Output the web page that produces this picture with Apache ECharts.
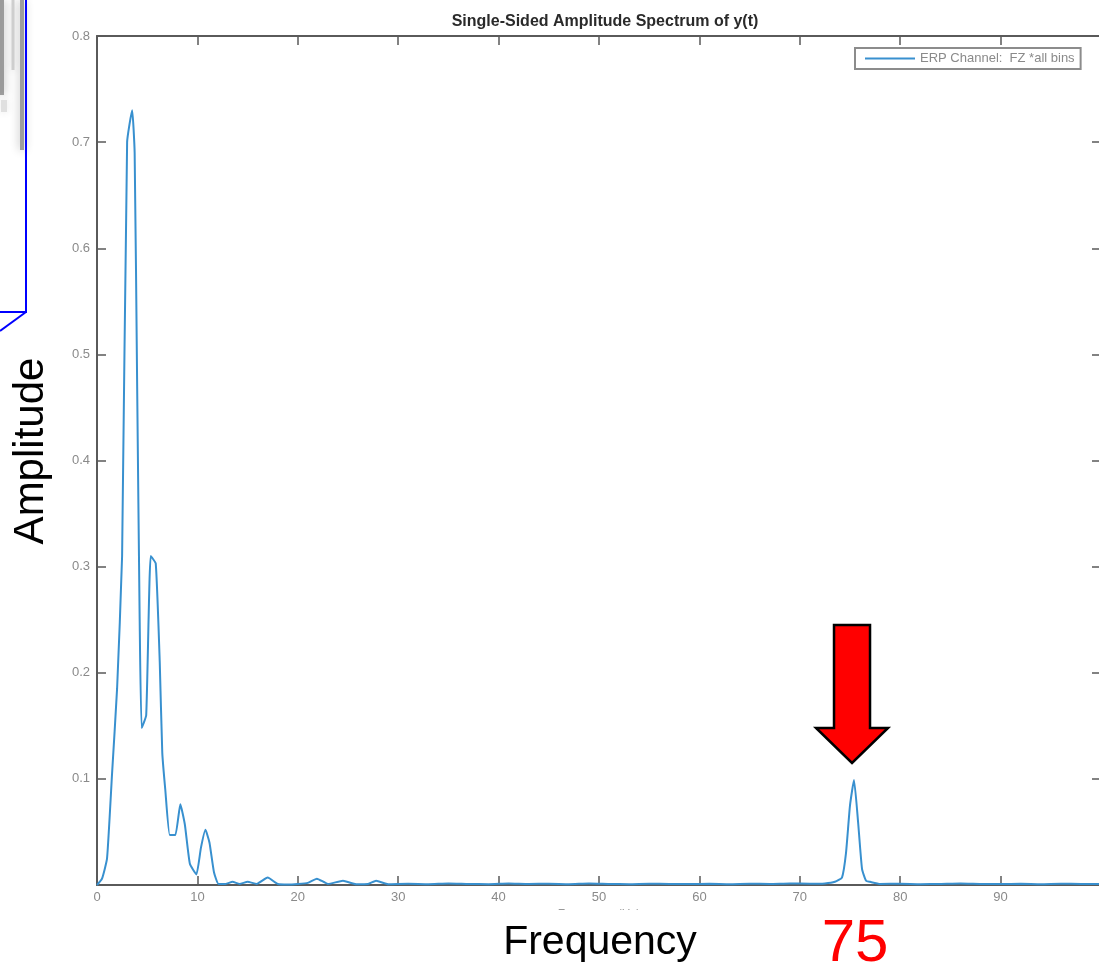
<!DOCTYPE html>
<html>
<head>
<meta charset="utf-8">
<title>Single-Sided Amplitude Spectrum of y(t)</title>
<script src="https://cdn.jsdelivr.net/npm/echarts@6/dist/echarts.min.js"></script>
<style>
  html, body { margin: 0; padding: 0; background: #ffffff; }
  #chart { width: 1099px; height: 972px; }
</style>
</head>
<body>
<div id="chart"></div>
<script>
// Spectrum samples: frequency (Hz) and single-sided amplitude
const freq = [
  0, 0.5, 1.0, 1.5, 2.0, 2.5, 3.0, 3.5, 3.75, 4.0, 4.25, 4.45, 4.9, 5.35, 5.85,
  6.25, 6.5, 6.8, 7.25, 7.8, 8.3, 8.75, 9.25, 9.9, 10.35, 10.8, 11.2, 11.65, 12.1,
  12.8, 13.5, 14.2, 15.0, 15.9, 17.0, 18.0, 19.0, 20.0, 21.0, 21.9, 23.0, 24.5,
  25.8, 27.0, 27.8, 29.0, 31, 33, 35, 37, 39, 41, 43, 45, 47, 49, 51, 53, 55, 57,
  59, 61, 63, 65, 67, 69, 71, 72.5, 73.5, 74.2, 74.6, 75.0, 75.4, 75.8, 76.2,
  76.6, 77.0, 78, 80, 82, 84, 86, 88, 90, 92, 94, 96, 98, 100
];
const amp = [
  0, 0.006, 0.025, 0.105, 0.185, 0.31, 0.70, 0.73, 0.69, 0.47, 0.25, 0.148, 0.16, 0.31, 0.303,
  0.21, 0.125, 0.09, 0.047, 0.047, 0.076, 0.057, 0.02, 0.01, 0.035, 0.052, 0.04, 0.012, 0.001,
  0.001, 0.003, 0.001, 0.003, 0.001, 0.007, 0.001, 0.0005, 0.001, 0.002, 0.006, 0.001, 0.004,
  0.0008, 0.001, 0.004, 0.0008, 0.0012, 0.0008, 0.0015, 0.001, 0.0008, 0.0015, 0.001, 0.0012, 0.0008, 0.0014, 0.001, 0.0008, 0.0012, 0.001,
  0.0009, 0.0012, 0.0008, 0.0012, 0.001, 0.0015, 0.0012, 0.0015, 0.003, 0.007, 0.03, 0.075, 0.099, 0.06, 0.015,
  0.004, 0.003, 0.001, 0.0012, 0.0008, 0.001, 0.0014, 0.001, 0.0009, 0.0012, 0.0008, 0.0012, 0.001, 0.001
];

const xTicks = { min: 0, max: 100, interval: 10 };
const yTicks = { min: 0, max: 0.8, interval: 0.1 };

const seriesName = 'ERP Channel:  FZ *all bins';
const chartTitle = 'Single-Sided Amplitude Spectrum of y(t)';
const xAxisName = 'Frequency (Hz)';
const bigXLabel = 'Frequency';
const bigYLabel = 'Amplitude';
const peakLabel = '75';

const lineColor = '#3890cf';
const axisColor = '#5a5a5a';
const tickTextColor = '#8a8a8a';

const chart = echarts.init(document.getElementById('chart'), null, { renderer: 'canvas' });

const boxAxisCommon = {
  axisLine: { show: true, onZero: false, lineStyle: { color: axisColor, width: 2 } },
  axisTick: { show: true, inside: true, length: 9, lineStyle: { color: axisColor, width: 1.5 } },
  splitLine: { show: false }
};

chart.setOption({
  backgroundColor: '#ffffff',
  animation: false,
  title: {
    text: chartTitle,
    left: 600,
    textAlign: 'center',
    top: 9,
    textStyle: { fontFamily: 'Liberation Sans', fontSize: 16, fontWeight: 'bold', color: '#2a2a2a' }
  },
  legend: {
    left: 855,
    top: 48,
    icon: 'rect',
    itemWidth: 50,
    itemHeight: 2,
    itemGap: 4,
    padding: [4, 6, 4, 10],
    borderColor: '#8c8c8c',
    borderWidth: 2,
    backgroundColor: '#ffffff',
    textStyle: { fontFamily: 'Liberation Sans', fontSize: 13, color: '#8a8a8a' },
    data: [seriesName]
  },
  grid: { left: 97, top: 36, width: 1004, height: 849, containLabel: false, outerBoundsMode: 'none' },
  xAxis: [
    Object.assign({
      type: 'value', position: 'bottom',
      min: xTicks.min, max: xTicks.max, interval: xTicks.interval,
      name: xAxisName, nameLocation: 'middle', nameGap: 21,
      nameTextStyle: { fontFamily: 'Liberation Sans', fontSize: 12, color: '#999999' },
      axisLabel: {
        color: tickTextColor, fontFamily: 'Liberation Sans', fontSize: 13, margin: 6,
        formatter: v => (v === xTicks.max ? '' : String(v))
      }
    }, boxAxisCommon),
    Object.assign({
      type: 'value', position: 'top',
      min: xTicks.min, max: xTicks.max, interval: xTicks.interval,
      axisLabel: { show: false }
    }, boxAxisCommon)
  ],
  yAxis: [
    Object.assign({
      type: 'value', position: 'left',
      min: yTicks.min, max: yTicks.max, interval: yTicks.interval,
      axisLabel: {
        color: tickTextColor, fontFamily: 'Liberation Sans', fontSize: 13, margin: 7,
        formatter: v => (v === 0 ? '' : v.toFixed(1))
      }
    }, boxAxisCommon),
    Object.assign({
      type: 'value', position: 'right',
      min: yTicks.min, max: yTicks.max, interval: yTicks.interval,
      axisLabel: { show: false }
    }, boxAxisCommon)
  ],
  series: [{
    name: seriesName,
    type: 'line',
    xAxisIndex: 0,
    yAxisIndex: 0,
    data: freq.map((f, i) => [f, amp[i]]),
    showSymbol: false,
    smooth: 0.15,
    lineStyle: { color: lineColor, width: 2 },
    itemStyle: { color: lineColor },
    z: 3
  }]
});

// Locate the spectral peak above 60 Hz and point the red arrow at it
let peakIdx = -1;
for (let i = 0; i < freq.length; i++) {
  if (freq[i] > 60 && (peakIdx < 0 || amp[i] > amp[peakIdx])) peakIdx = i;
}
const peakPx = chart.convertToPixel({ xAxisIndex: 0, yAxisIndex: 0 }, [freq[peakIdx], amp[peakIdx]]);
const ax = peakPx[0] - 2;
const tipY = peakPx[1] - 17;
const arrowPoints = [
  [ax - 18, tipY - 138], [ax + 18, tipY - 138], [ax + 18, tipY - 35],
  [ax + 36, tipY - 35], [ax, tipY], [ax - 36, tipY - 35], [ax - 18, tipY - 35]
];

chart.setOption({
  graphic: [
    // faint grey streaks at the upper-left edge
    { type: 'line', shape: { x1: 2, y1: 0, x2: 2, y2: 95 }, style: { stroke: '#9a9a9a', lineWidth: 4, shadowBlur: 10, shadowColor: '#a8a8a8' }, z: 1 },
    { type: 'line', shape: { x1: 13, y1: 0, x2: 13, y2: 70 }, style: { stroke: '#d0d0d0', lineWidth: 3, shadowBlur: 8, shadowColor: '#d8d8d8' }, z: 1 },
    { type: 'line', shape: { x1: 22, y1: 0, x2: 22, y2: 150 }, style: { stroke: '#9c9c9c', lineWidth: 4, shadowBlur: 10, shadowColor: '#b0b0b0' }, z: 1 },
    { type: 'line', shape: { x1: 4, y1: 100, x2: 4, y2: 112 }, style: { stroke: '#e0e0e0', lineWidth: 6, shadowBlur: 8, shadowColor: '#e4e4e4' }, z: 1 },
    // blue frame fragment
    { type: 'polyline', shape: { points: [[26, 0], [26, 312], [0, 312]] }, style: { stroke: '#0000ff', lineWidth: 2, fill: null }, z: 5 },
    { type: 'line', shape: { x1: 26, y1: 312, x2: 0, y2: 331 }, style: { stroke: '#0000ff', lineWidth: 2 }, z: 5 },
    // white patch under the large axis caption
    { type: 'rect', shape: { x: 470, y: 910, width: 260, height: 62 }, style: { fill: '#ffffff' }, z: 10 },
    {
      type: 'text', x: 600, y: 943, z: 11,
      style: { text: bigXLabel, fill: '#000000', font: '41px "Liberation Sans"', textAlign: 'center', textVerticalAlign: 'middle' }
    },
    {
      type: 'text', x: 855, y: 944, z: 11,
      style: { text: peakLabel, fill: '#ff0000', font: '60px "Liberation Sans"', textAlign: 'center', textVerticalAlign: 'middle' }
    },
    {
      type: 'text', x: 31, y: 451, rotation: Math.PI / 2, z: 11,
      style: { text: bigYLabel, fill: '#000000', font: '42px "Liberation Sans"', textAlign: 'center', textVerticalAlign: 'middle' }
    },
    {
      type: 'polygon', z: 12,
      shape: { points: arrowPoints },
      style: { fill: '#ff0000', stroke: '#000000', lineWidth: 2.5, lineJoin: 'miter' }
    }
  ]
});
</script>
</body>
</html>
